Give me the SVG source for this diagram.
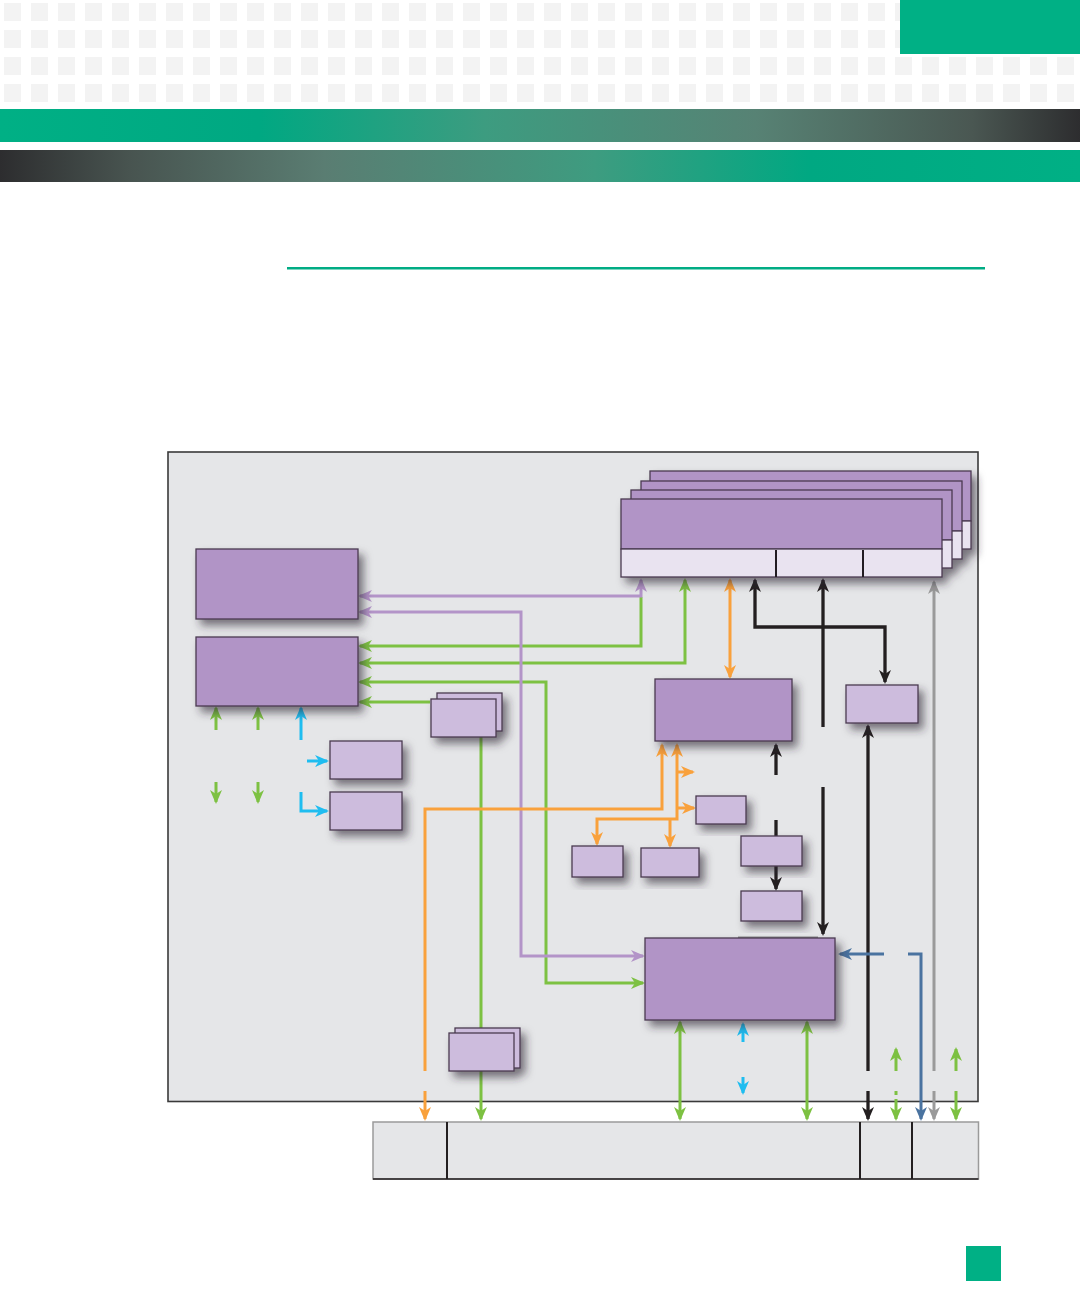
<svg xmlns="http://www.w3.org/2000/svg" width="1080" height="1290" viewBox="0 0 1080 1290">
<style>
.dp{fill:#b194c6;stroke:#4a3a50;stroke-width:1.3}
.lp{fill:#cdbcdd;stroke:#4a3a50;stroke-width:1.3}
.strip{fill:#e9e3f0;stroke:#4a3a50;stroke-width:1.3}
.div{stroke:#231f20;stroke-width:2}
.c{fill:none;stroke-width:3}
.g{stroke:#7dc142}
.p{stroke:#b394c8}
.o{stroke:#f9a13c}
.k{stroke:#231f20;stroke-width:3.3}
.cy{stroke:#1fbdf0}
.b{stroke:#4a73a0}
.y{stroke:#9a9a9a}
</style>
<defs>
<pattern id="grid" x="0" y="0" width="27" height="27" patternUnits="userSpaceOnUse">
<rect x="4" y="3" width="17" height="18" fill="#f3f3f3"/>
</pattern>
<linearGradient id="bar1" x1="0" y1="0" x2="1" y2="0">
<stop offset="0" stop-color="#00b085"/>
<stop offset="0.24" stop-color="#00a882"/>
<stop offset="0.45" stop-color="#3d9c80"/>
<stop offset="0.7" stop-color="#578274"/>
<stop offset="0.9" stop-color="#4a5752"/>
<stop offset="1" stop-color="#2d2d2f"/>
</linearGradient>
<linearGradient id="bar2" x1="0" y1="0" x2="1" y2="0">
<stop offset="0" stop-color="#2d2d2f"/>
<stop offset="0.12" stop-color="#485450"/>
<stop offset="0.3" stop-color="#5a7d72"/>
<stop offset="0.55" stop-color="#3e9c80"/>
<stop offset="0.75" stop-color="#00a882"/>
<stop offset="1" stop-color="#00b085"/>
</linearGradient>
<filter id="sh" x="-20%" y="-20%" width="150%" height="160%">
<feDropShadow dx="5" dy="6" stdDeviation="4" flood-color="#2a2530" flood-opacity="0.6"/>
</filter>
<marker id="ag" viewBox="0 0 14 12" refX="12" refY="6" markerWidth="14" markerHeight="12" markerUnits="userSpaceOnUse" orient="auto-start-reverse"><path d="M0,0 L14,6 L0,12 L4,6 Z" fill="#7dc142"/></marker>
<marker id="ap" viewBox="0 0 14 12" refX="12" refY="6" markerWidth="14" markerHeight="12" markerUnits="userSpaceOnUse" orient="auto-start-reverse"><path d="M0,0 L14,6 L0,12 L4,6 Z" fill="#b394c8"/></marker>
<marker id="ao" viewBox="0 0 14 12" refX="12" refY="6" markerWidth="14" markerHeight="12" markerUnits="userSpaceOnUse" orient="auto-start-reverse"><path d="M0,0 L14,6 L0,12 L4,6 Z" fill="#f9a13c"/></marker>
<marker id="ak" viewBox="0 0 14 12" refX="12" refY="6" markerWidth="14" markerHeight="12" markerUnits="userSpaceOnUse" orient="auto-start-reverse"><path d="M0,0 L14,6 L0,12 L4,6 Z" fill="#231f20"/></marker>
<marker id="ac" viewBox="0 0 14 12" refX="12" refY="6" markerWidth="14" markerHeight="12" markerUnits="userSpaceOnUse" orient="auto-start-reverse"><path d="M0,0 L14,6 L0,12 L4,6 Z" fill="#1fbdf0"/></marker>
<marker id="ab" viewBox="0 0 14 12" refX="12" refY="6" markerWidth="14" markerHeight="12" markerUnits="userSpaceOnUse" orient="auto-start-reverse"><path d="M0,0 L14,6 L0,12 L4,6 Z" fill="#4a73a0"/></marker>
<marker id="ay" viewBox="0 0 14 12" refX="12" refY="6" markerWidth="14" markerHeight="12" markerUnits="userSpaceOnUse" orient="auto-start-reverse"><path d="M0,0 L14,6 L0,12 L4,6 Z" fill="#9a9a9a"/></marker>
</defs>

<g id="page-header">
<rect x="0" y="0" width="1080" height="106" fill="url(#grid)"/>
<rect x="900" y="0" width="180" height="54" fill="#00b085"/>
<rect x="0" y="109" width="1080" height="33" fill="url(#bar1)"/>
<rect x="0" y="150" width="1080" height="32" fill="url(#bar2)"/>
<rect x="287" y="267" width="698" height="2.5" fill="#00ac84"/>
<rect x="966" y="1246" width="35" height="35" fill="#00b085"/>
</g>

<g id="board">
<rect x="168" y="452" width="810" height="649.5" fill="#e5e6e8" stroke="#3a3a3a" stroke-width="1.6"/>
</g>

<g id="connector-box">
<rect x="373" y="1122" width="605.5" height="57" fill="#e5e6e8" stroke="#9a9a9a" stroke-width="1.5"/>
<line x1="373" y1="1179" x2="978.5" y2="1179" stroke="#231f20" stroke-width="1.6"/>
<line x1="447" y1="1122" x2="447" y2="1179" class="div"/>
<line x1="860" y1="1122" x2="860" y2="1179" class="div"/>
<line x1="912" y1="1122" x2="912" y2="1179" class="div"/>
</g>

<g id="connectors">
<!-- green -->
<path class="c g" d="M641,597 V646 H360" marker-end="url(#ag)"/>
<path class="c g" d="M685,580 V663 H360" marker-start="url(#ag)" marker-end="url(#ag)"/>
<path class="c g" d="M643,983 H546 V682 H360" marker-start="url(#ag)" marker-end="url(#ag)"/>
<path class="c g" d="M430,702 H360" marker-end="url(#ag)"/>
<path class="c g" d="M481,737 V1119" marker-end="url(#ag)"/>
<path class="c g" d="M680,1022 V1119" marker-start="url(#ag)" marker-end="url(#ag)"/>
<path class="c g" d="M807,1022 V1119" marker-start="url(#ag)" marker-end="url(#ag)"/>
<path class="c g" d="M216,730 V708" marker-end="url(#ag)"/>
<path class="c g" d="M258,730 V708" marker-end="url(#ag)"/>
<path class="c g" d="M216,782 V802" marker-end="url(#ag)"/>
<path class="c g" d="M258,782 V802" marker-end="url(#ag)"/>
<path class="c g" d="M896,1071 V1049" marker-end="url(#ag)"/>
<path class="c g" d="M896,1091 V1095"/>
<path class="c g" d="M896,1099 V1119" marker-end="url(#ag)"/>
<path class="c g" d="M956,1071 V1049" marker-end="url(#ag)"/>
<path class="c g" d="M956,1091 V1119" marker-end="url(#ag)"/>
<!-- purple -->
<path class="c p" d="M641,580 V596 H360" marker-start="url(#ap)" marker-end="url(#ap)"/>
<path class="c p" d="M360,612 H521 V956 H643" marker-start="url(#ap)" marker-end="url(#ap)"/>
<!-- orange -->
<path class="c o" d="M730,580 V677" marker-start="url(#ao)" marker-end="url(#ao)"/>
<path class="c o" d="M425,1071 V809 H662 V745" marker-end="url(#ao)"/>
<path class="c o" d="M425,1091 V1119" marker-end="url(#ao)"/>
<path class="c o" d="M677,745 V819 H597 V844" marker-start="url(#ao)" marker-end="url(#ao)"/>
<path class="c o" d="M670,819 V846" marker-end="url(#ao)"/>
<path class="c o" d="M677,772 H693" marker-end="url(#ao)"/>
<path class="c o" d="M677,808 H694" marker-end="url(#ao)"/>
<!-- black -->
<path class="c k" d="M755,580 V627 H885 V682" marker-start="url(#ak)" marker-end="url(#ak)"/>
<path class="c k" d="M823,580 V727" marker-start="url(#ak)"/>
<path class="c k" d="M823,787 V934" marker-end="url(#ak)"/>
<path class="c k" d="M776,775 V745" marker-end="url(#ak)"/>
<path class="c k" d="M776,820 V836"/>
<path class="c k" d="M776,866 V889" marker-end="url(#ak)"/>
<path class="c k" d="M868,726 V1071" marker-start="url(#ak)"/>
<path class="c k" d="M868,1091 V1119" marker-end="url(#ak)"/>
<!-- cyan -->
<path class="c cy" d="M301,740 V708" marker-end="url(#ac)"/>
<path class="c cy" d="M307,761 H327" marker-end="url(#ac)"/>
<path class="c cy" d="M301,792 V811 H327" marker-end="url(#ac)"/>
<path class="c cy" d="M743,1042 V1024" marker-end="url(#ac)"/>
<path class="c cy" d="M743,1077 V1093" marker-end="url(#ac)"/>
<!-- blue -->
<path class="c b" d="M884,954 H840" marker-end="url(#ab)"/>
<path class="c b" d="M908,954 H921 V1119" marker-end="url(#ab)"/>
<!-- gray -->
<path class="c y" d="M934,582 V1071" marker-start="url(#ay)"/>
<path class="c y" d="M934,1091 V1119" marker-end="url(#ay)"/>
</g>

<g id="card-stack" filter="url(#sh)">
<g id="card-4"><rect class="dp" x="650" y="471" width="321" height="50"/><rect class="strip" x="650" y="521" width="321" height="28"/></g>
<g id="card-3"><rect class="dp" x="641" y="481" width="321" height="50"/><rect class="strip" x="641" y="531" width="321" height="28"/></g>
<g id="card-2"><rect class="dp" x="631" y="490" width="321" height="50"/><rect class="strip" x="631" y="540" width="321" height="28"/></g>
<g id="card-1"><rect class="dp" x="621" y="499" width="321" height="50"/><rect class="strip" x="621" y="549" width="321" height="28"/>
<line class="div" x1="776" y1="550" x2="776" y2="577"/><line class="div" x1="863" y1="550" x2="863" y2="577"/></g>
</g>

<g id="node-a" filter="url(#sh)"><rect class="dp" x="196" y="549" width="162" height="70"/></g>
<g id="node-b" filter="url(#sh)"><rect class="dp" x="196" y="637" width="162" height="69"/></g>
<g id="node-c" filter="url(#sh)"><rect class="lp" x="437" y="693" width="65" height="38"/><rect class="lp" x="431" y="699" width="65" height="38"/></g>
<g id="node-e" filter="url(#sh)"><rect class="lp" x="330" y="741" width="72" height="38"/></g>
<g id="node-f" filter="url(#sh)"><rect class="lp" x="330" y="792" width="72" height="38"/></g>
<g id="node-g" filter="url(#sh)"><rect class="dp" x="655" y="679" width="137" height="62"/></g>
<g id="node-h" filter="url(#sh)"><rect class="lp" x="846" y="685" width="72" height="38"/></g>
<g id="node-k" filter="url(#sh)"><rect class="lp" x="696" y="796" width="50" height="28"/></g>
<g id="node-l" filter="url(#sh)"><rect class="lp" x="572" y="846" width="51" height="31"/></g>
<g id="node-m" filter="url(#sh)"><rect class="lp" x="641" y="848" width="58" height="29"/></g>
<g id="node-i" filter="url(#sh)"><rect class="lp" x="741" y="836" width="61" height="30"/></g>
<g id="node-j" filter="url(#sh)"><rect class="lp" x="741" y="891" width="61" height="30"/></g>
<line x1="738" y1="937.5" x2="818" y2="937.5" stroke="#8a8a8a" stroke-width="2"/>
<g id="node-n" filter="url(#sh)"><rect class="dp" x="645" y="938" width="190" height="82"/></g>
<g id="node-d" filter="url(#sh)"><rect class="lp" x="455" y="1028" width="65" height="40"/><rect class="lp" x="449" y="1033" width="65" height="38"/></g>
</svg>
